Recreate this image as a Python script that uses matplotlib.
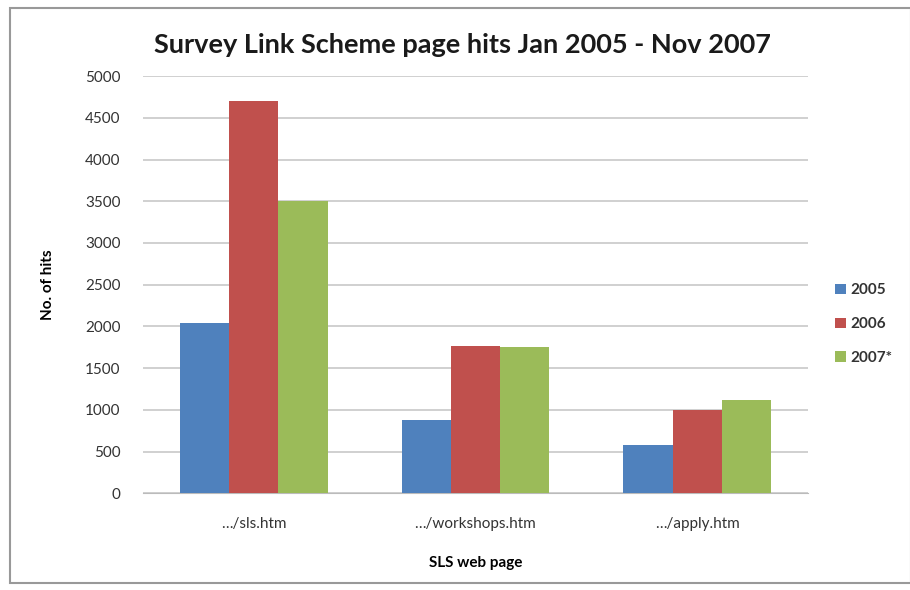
import numpy as np
import matplotlib.pyplot as plt
from matplotlib.patches import Rectangle

pages = ["…/sls.htm", "…/workshops.htm", "…/apply.htm"]
years = ["2005", "2006", "2007*"]
hits_2005 = [2040, 880, 580]
hits_2006 = [4700, 1770, 1000]
hits_2007 = [3500, 1750, 1120]
colors = ["#4F81BD", "#C0504D", "#9BBB59"]

plt.rcParams['font.family'] = ['Lato', 'DejaVu Sans']

fig = plt.figure(figsize=(9.1, 5.9), dpi=100)
ax = fig.add_axes([0.157, 0.164, 0.731, 0.707])

x = np.arange(len(pages))
w = 0.222
for i, (vals, lab) in enumerate(zip([hits_2005, hits_2006, hits_2007], years)):
    ax.bar(x + (i - 1) * w, vals, w, color=colors[i], label=lab, zorder=3)

ax.set_xlim(-0.5, 2.5)
ax.set_ylim(0, 5000)
ax.set_yticks(np.arange(0, 5001, 500))
ax.grid(axis='y', color='#C8C8C8', linewidth=1.2, zorder=0)
ax.set_xticks(x)
ax.set_xticklabels(pages, fontsize=11, color='#333333')
ax.tick_params(axis='y', labelsize=11, colors='#333333', length=0, pad=16)
ax.tick_params(axis='x', length=0, pad=17)
for s in ['top', 'right', 'left']:
    ax.spines[s].set_visible(False)
ax.spines['bottom'].set_color('#BBBBBB')

ax.set_ylabel("No. of hits", fontsize=11, fontweight='bold', labelpad=22)
ax.set_xlabel("SLS web page", fontsize=11, fontweight='bold', labelpad=18)
fig.text(0.508, 0.924, "Survey Link Scheme page hits Jan 2005 - Nov 2007",
         ha='center', va='center', fontsize=19.5, fontweight='bold', color='#1a1a1a')

leg = ax.legend(loc='center left', bbox_to_anchor=(1.02, 0.405), frameon=False,
                fontsize=11, handlelength=0.7, handleheight=0.7, labelspacing=1.3,
                handletextpad=0.3)
for t in leg.get_texts():
    t.set_fontweight('bold')
    t.set_color('#333333')

fig.patches.append(Rectangle((0.011, 0.012), 0.99, 0.975, transform=fig.transFigure,
                             fill=False, edgecolor='#999999', linewidth=1.5))

fig.savefig("out.png", dpi=100)
